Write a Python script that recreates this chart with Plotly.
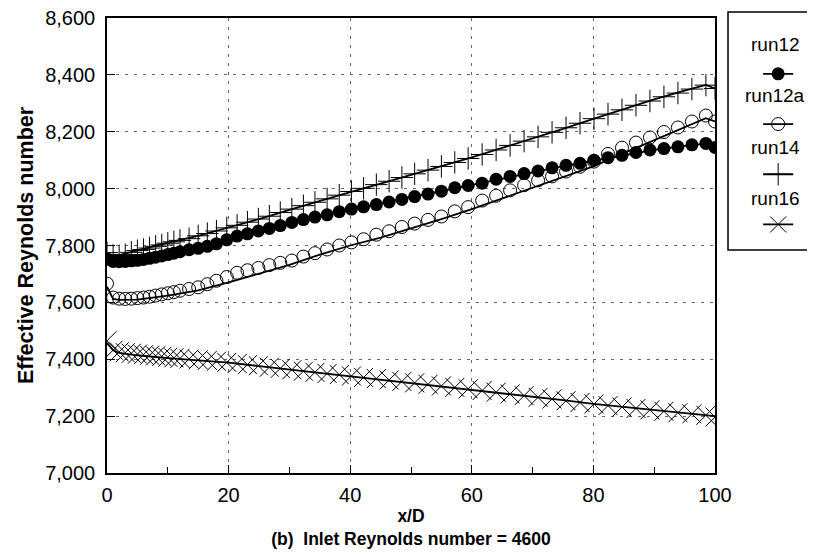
import plotly.graph_objects as go

# ---- data ----
x_pts = [0, 1, 2, 3, 4, 5, 6, 7, 8, 9, 10, 11, 12, 13.5, 15, 16.5, 18, 19.7, 21.4, 23.1,
         24.9, 26.7, 28.5, 30.4, 32.3, 34.2, 36.2, 38.2, 40.2, 42.2, 44.3, 46.4, 48.5, 50.6,
         52.8, 55, 57.2, 59.4, 61.7, 64, 66.3, 68.6, 70.9, 73.2, 75.5, 77.8, 80.1, 82.4,
         84.7, 87, 89.3, 91.6, 93.9, 96.2, 98.5, 100]

run12 = [7752, 7744, 7743, 7744, 7746, 7748, 7751, 7755, 7759, 7763, 7768, 7773, 7778, 7785,
         7790, 7797, 7806, 7820, 7833, 7841, 7851, 7860, 7870, 7881, 7891, 7900, 7908, 7919,
         7928, 7936, 7944, 7953, 7962, 7972, 7981, 7991, 8003, 8011, 8019, 8033, 8043, 8053,
         8062, 8073, 8082, 8089, 8100, 8109, 8117, 8127, 8136, 8141, 8147, 8154, 8159, 8145]

run12a = [7666, 7617, 7613, 7612, 7613, 7615, 7617, 7620, 7624, 7628, 7632, 7636, 7641, 7647,
          7653, 7664, 7676, 7689, 7704, 7713, 7721, 7731, 7739, 7747, 7761, 7773, 7786, 7800,
          7811, 7822, 7838, 7850, 7865, 7877, 7890, 7902, 7920, 7935, 7958, 7975, 7994, 8012,
          8029, 8043, 8060, 8077, 8095, 8122, 8144, 8162, 8180, 8199, 8215, 8236, 8257, 8236]

run14 = [7775, 7765, 7764, 7768, 7776, 7782, 7786, 7791, 7797, 7802, 7808, 7813, 7818, 7824,
         7834, 7842, 7851, 7862, 7871, 7882, 7893, 7903, 7916, 7928, 7940, 7952, 7964, 7977,
         7990, 8001, 8014, 8026, 8039, 8052, 8065, 8078, 8092, 8106, 8120, 8136, 8152, 8167,
         8182, 8198, 8214, 8230, 8246, 8262, 8277, 8293, 8308, 8323, 8336, 8350, 8364, 8352]

run16 = [7465, 7432, 7426, 7423, 7421, 7418, 7416, 7414, 7412, 7410, 7407, 7405, 7403, 7401,
         7398, 7396, 7393, 7389, 7385, 7381, 7377, 7372, 7368, 7363, 7358, 7354, 7350, 7346,
         7341, 7336, 7332, 7327, 7322, 7317, 7312, 7306, 7301, 7296, 7290, 7284, 7278, 7272,
         7266, 7260, 7254, 7248, 7243, 7237, 7232, 7227, 7222, 7217, 7212, 7208, 7203, 7197]

# fitted curves (solid lines)
x_fit = [0, 1, 2, 5, 10, 15, 20, 25, 30, 35, 40, 45, 50, 55, 60, 65, 70, 75, 80, 85, 90, 95, 98.5, 100]
fit12 = [7750, 7744, 7743, 7748, 7766, 7789, 7820, 7850, 7877, 7903, 7926, 7949, 7970, 7991,
         8013, 8037, 8058, 8079, 8098, 8117, 8136, 8150, 8158, 8146]
fit12a = [7655, 7612, 7609, 7610, 7624, 7642, 7670, 7700, 7732, 7768, 7800, 7828, 7860, 7893,
          7928, 7965, 8003, 8040, 8078, 8125, 8170, 8215, 8248, 8236]
fit14 = [7772, 7765, 7766, 7783, 7810, 7834, 7863, 7893, 7925, 7957, 7988, 8018, 8048, 8078,
         8110, 8143, 8176, 8210, 8245, 8280, 8314, 8345, 8365, 8352]
fit16 = [7458, 7432, 7422, 7414, 7404, 7396, 7388, 7376, 7364, 7352, 7341, 7330, 7318, 7306,
         7294, 7281, 7268, 7256, 7243, 7232, 7220, 7210, 7203, 7200]

series_names = ["run12", "run12a", "run14", "run16"]
y_tickvals = [7000, 7200, 7400, 7600, 7800, 8000, 8200, 8400, 8600]
x_tickvals = [0, 20, 40, 60, 80, 100]

FONT = "Liberation Sans, Arial, Helvetica, sans-serif"
markers = [
    dict(symbol="circle", size=13, color="black", line=dict(width=0)),
    dict(symbol="circle-open", size=13, color="black", line=dict(width=1)),
    dict(symbol="cross-thin-open", size=16, color="black", line=dict(width=1)),
    dict(symbol="x-thin-open", size=19, color="black", line=dict(width=1)),
]
LINE = dict(color="black", width=1.8)

fig = go.Figure()
fits = [fit12, fit12a, fit14, fit16]
vals = [run12, run12a, run14, run16]
for name, fy in zip(series_names, fits):
    fig.add_trace(go.Scatter(x=x_fit, y=fy, mode="lines", line=LINE, showlegend=False,
                             hoverinfo="skip"))
for name, vy, mk in zip(series_names, vals, markers):
    fig.add_trace(go.Scatter(x=x_pts, y=vy, mode="markers", marker=mk, name=name,
                             showlegend=False))
# legend entries (line + marker sample)
for name, mk in zip(series_names, markers):
    fig.add_trace(go.Scatter(x=[None], y=[None], mode="lines+markers", marker=mk, line=LINE,
                             name=" ", legendgroup=name, showlegend=True))

# plot area spans figure y 10..465 (height 455)
PH = 455.0
def py(fig_y):
    return (465.0 - fig_y) / PH

# legend labels above each sample (figure-pixel rows converted to paper units)
label_rows = [36, 88, 139, 190]
label_y = [py(r) for r in label_rows]
annotations = [dict(text=n, x=1.0987, y=yy, xref="paper", yref="paper", showarrow=False,
                    xanchor="center", yanchor="middle",
                    font=dict(family=FONT, size=19, color="black"))
               for n, yy in zip(series_names, label_y)]

fig.update_layout(
    width=807, height=552,
    margin=dict(l=99, r=100, t=10, b=87, autoexpand=False),
    paper_bgcolor="white", plot_bgcolor="white",
    font=dict(family=FONT, size=19, color="black"),
    showlegend=True,
    legend=dict(x=1.071, xanchor="left", y=py(47), yanchor="top", bgcolor="rgba(0,0,0,0)",
                borderwidth=0, tracegroupgap=22.5, font=dict(family=FONT, size=19),
                itemwidth=30),
    annotations=annotations,
    shapes=[dict(type="rect", xref="paper", yref="paper", x0=1.0214, x1=1.2,
                 y0=py(242), y1=py(4), line=dict(color="black", width=1.5))],
    xaxis=dict(range=[0, 100], tickvals=x_tickvals, ticks="inside", ticklen=8, tickwidth=1,
               tickcolor="black", showline=True, linecolor="black", linewidth=1.5, mirror=True,
               showgrid=True, gridcolor="#666666", griddash="3px,6px", gridwidth=1,
               minor=dict(dtick=10, tick0=0, ticks="inside", ticklen=6, tickcolor="black",
                          showgrid=False),
               zeroline=False, tickfont=dict(size=20), ticklabelstandoff=3,
               ticklabeloverflow="allow",
               title=dict(text="<b>x/D</b><br><b>(b)&nbsp; Inlet Reynolds number = 4600</b>",
                          font=dict(size=17.5), standoff=0)),
    yaxis=dict(range=[7000, 8600], tickvals=y_tickvals, tickformat=",d", ticks="inside",
               ticklen=8, tickwidth=1, tickcolor="black", showline=True, linecolor="black",
               linewidth=1.5, mirror=True, showgrid=True, gridcolor="#666666",
               griddash="3px,6px", gridwidth=1, zeroline=False, tickfont=dict(size=20),
               ticklabelstandoff=6, ticklabeloverflow="allow",
               title=dict(text="<b>Effective Reynolds number</b>", font=dict(size=21.5), standoff=6)),
)

fig.write_html("out.html")
